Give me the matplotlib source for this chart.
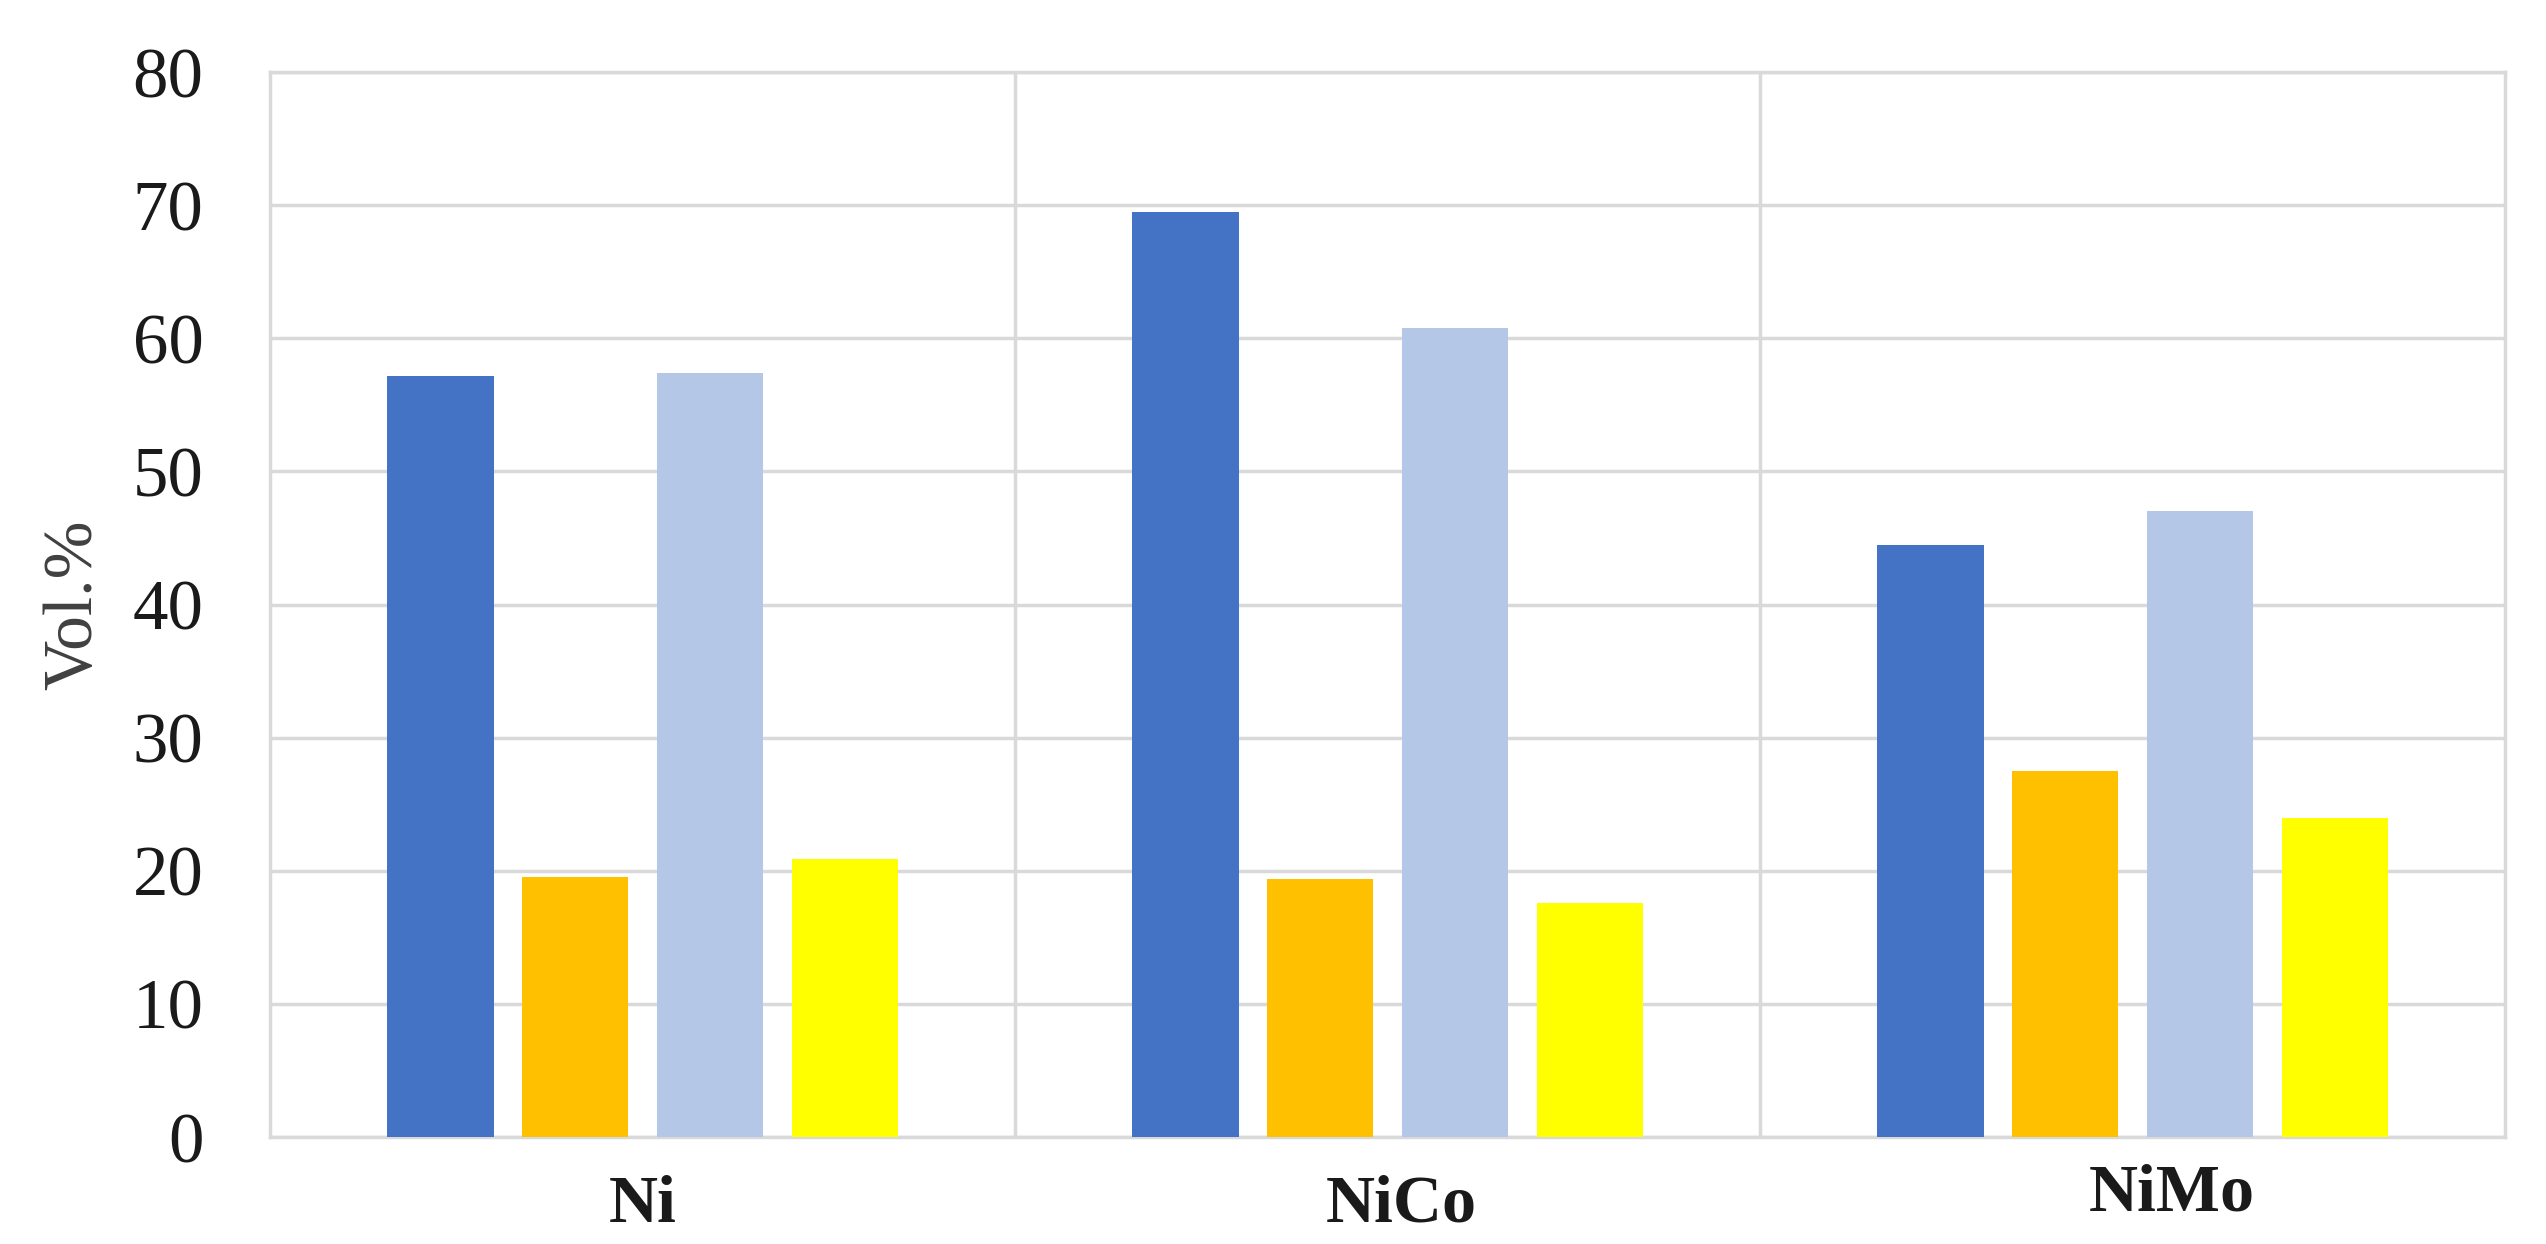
import numpy as np
import matplotlib.pyplot as plt
from matplotlib.transforms import ScaledTranslation

# groups and the four series (Vol.%)
groups = ["Ni", "NiCo", "NiMo"]
s1 = [57.2, 69.5, 44.5]
s2 = [19.5, 19.4, 27.5]
s3 = [57.4, 60.8, 47.0]
s4 = [20.9, 17.6, 24.0]
series = [s1, s2, s3, s4]
colors = ["#4472C4", "#FFC000", "#B4C7E7", "#FFFF00"]
yticks = [0, 10, 20, 30, 40, 50, 60, 70, 80]

grid_c = "#d9d9d9"

fig = plt.figure(figsize=(25.46, 12.44), dpi=100)
ax = fig.add_axes([0.1061, 0.0860, 0.8778, 0.8561])

x = np.arange(len(groups))
slot = 0.181
width = 0.143
for i, (vals, c) in enumerate(zip(series, colors)):
    ax.bar(x + (i - 1.5) * slot, vals, width=width, color=c, zorder=3)

ax.set_xlim(-0.5, 2.5)
ax.set_ylim(0, 80)
ax.set_yticks(yticks)
ax.set_yticklabels([str(v) for v in yticks], family="Liberation Serif",
                   fontsize=51, color="#1a1a1a")
ax.set_xticks(x)
ax.set_xticklabels(groups, family="Liberation Serif", fontsize=49,
                   fontweight="bold", color="#1a1a1a")
ax.tick_params(axis="y", length=0, pad=48)
ax.tick_params(axis="x", length=0, pad=27)

# labels are not quite centred under their groups in the original
shifts = [(0.0, 0.0), (0.14, 0.0), (0.39, 0.11)]
for lab, (dx, dy) in zip(ax.get_xticklabels(), shifts):
    lab.set_transform(lab.get_transform() + ScaledTranslation(dx, dy, fig.dpi_scale_trans))

ax.grid(axis="y", color=grid_c, linewidth=2.5, zorder=0)
for sep in [0.5, 1.5]:
    ax.axvline(sep, color=grid_c, linewidth=2.5, zorder=0)
for sp in ax.spines.values():
    sp.set_color(grid_c)
    sp.set_linewidth(2.5)

ax.set_ylabel("Vol.%", family="Liberation Serif", fontsize=50,
              color="#404040", labelpad=19)

fig.savefig("out.png", dpi=100)
